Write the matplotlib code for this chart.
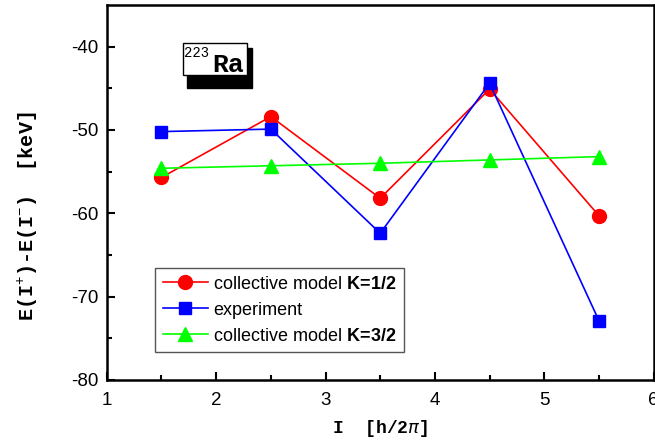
import matplotlib
matplotlib.use("Agg")
import matplotlib.pyplot as plt
from matplotlib.patches import Rectangle

plt.rcParams["font.family"] = ["Liberation Sans", "DejaVu Sans"]
plt.rcParams["axes.unicode_minus"] = False
plt.rcParams["mathtext.fontset"] = "custom"
plt.rcParams["mathtext.rm"] = "Liberation Sans"
plt.rcParams["mathtext.bf"] = "Liberation Sans:bold"

# ── data ──────────────────────────────────────────────────────────────────────
spin = [1.5, 2.5, 3.5, 4.5, 5.5]
model_k12 = [-55.7, -48.4, -58.2, -45.1, -60.3]
experiment = [-50.2, -49.9, -62.4, -44.4, -72.9]
model_k32 = [-54.6, -54.3, -54.0, -53.6, -53.2]

fig = plt.figure(figsize=(6.55, 4.47), dpi=100)
ax = fig.add_axes([0.163, 0.150, 0.835, 0.839])

ax.plot(spin, model_k12, color="red", lw=1.2, marker="o", ms=10,
        label=r"collective model $\mathbf{K\!=\!1/2}$")
ax.plot(spin, experiment, color="blue", lw=1.2, marker="s", ms=8,
        label="experiment")
ax.plot(spin, model_k32, color="#00ff00", lw=1.2, marker="^", ms=10,
        label=r"collective model $\mathbf{K\!=\!3/2}$")

ax.set_xlim(1, 6)
ax.set_ylim(-80, -35)
ax.set_xticks([1, 2, 3, 4, 5, 6])
ax.set_xticks([1.5, 2.5, 3.5, 4.5, 5.5], minor=True)
ax.set_yticks([-80, -70, -60, -50, -40])
ax.set_yticks([-75, -65, -55, -45], minor=True)
ax.tick_params(which="both", direction="in", width=1.5, labelsize=13.5)
ax.tick_params(which="major", length=6, pad=6)
ax.tick_params(axis="x", which="major", pad=9)
ax.tick_params(which="minor", length=3.5)
for s in ax.spines.values():
    s.set_linewidth(1.8)

ax.set_xlabel(r"I  [h/2$\pi$]", family="Liberation Mono", weight="bold",
              size=13, labelpad=6)
ax.set_ylabel(r"E(I$^{+}$)-E(I$^{-}$)  [keV]", family="Liberation Mono",
              weight="bold", size=14.5)
ax.yaxis.set_label_coords(-0.122, 0.437)

leg = ax.legend(loc="lower left", bbox_to_anchor=(0.089, 0.075), fontsize=13,
                fancybox=False, framealpha=1, edgecolor="#555555",
                handlelength=2.5, borderpad=0.4, labelspacing=0.5,
                handletextpad=0.3, borderaxespad=0)
leg.get_frame().set_linewidth(1.0)

# nucleus label box with drop shadow
ax.add_patch(Rectangle((0.146, 0.779), 0.119, 0.106, transform=ax.transAxes,
                       facecolor="black", edgecolor="black", zorder=5))
ax.add_patch(Rectangle((0.1385, 0.813), 0.1176, 0.085, transform=ax.transAxes,
                       facecolor="white", edgecolor="black", lw=1.0, zorder=6))
ax.text(0.141, 0.860, "223", transform=ax.transAxes,
        family="Liberation Mono", size=10, zorder=7)
ax.text(0.193, 0.821, "Ra", transform=ax.transAxes,
        family="Liberation Mono", weight="bold", size=19, zorder=7)

fig.savefig("out.png", dpi=100)
